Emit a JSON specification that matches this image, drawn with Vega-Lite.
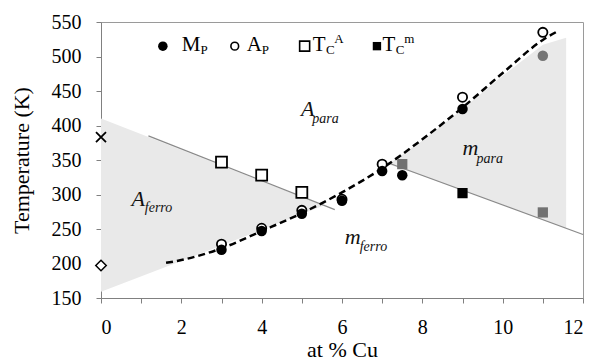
{
  "$schema": "https://vega.github.io/schema/vega-lite/v6.json",
  "width": 482,
  "height": 276,
  "autosize": {"type": "none"},
  "padding": {"left": 101, "top": 22, "right": 13, "bottom": 63},
  "background": "white",
  "config": {
    "view": {"stroke": "#9a9a9a", "strokeWidth": 1},
    "font": "Liberation Serif",
    "axis": {
      "grid": false,
      "labelFont": "Liberation Serif",
      "titleFont": "Liberation Serif",
      "labelFontSize": 20,
      "titleFontSize": 22,
      "titleFontWeight": "normal",
      "labelColor": "black",
      "titleColor": "black",
      "domainColor": "#808080",
      "tickColor": "#808080",
      "tickSize": 5
    }
  },
  "datasets": {
    "shade": [
      {"region": "Aferro", "x": 0, "T": 159, "T2": 410},
      {"region": "Aferro", "x": 3, "T": 226, "T2": 342},
      {"region": "Aferro", "x": 5.55, "T": 284, "T2": 284},
      {"region": "mpara", "x": 7.15, "T": 344, "T2": 344},
      {"region": "mpara", "x": 8, "T": 327, "T2": 378},
      {"region": "mpara", "x": 9, "T": 306, "T2": 424},
      {"region": "mpara", "x": 10, "T": 285, "T2": 472},
      {"region": "mpara", "x": 11, "T": 263, "T2": 517},
      {"region": "mpara", "x": 11.58, "T": 251, "T2": 527}
    ],
    "grayLines": [
      {"line": "TCA", "x": 1.18, "T": 385},
      {"line": "TCA", "x": 5.82, "T": 278},
      {"line": "TCm", "x": 7.19, "T": 345},
      {"line": "TCm", "x": 12, "T": 242}
    ],
    "curve": [
      {"x": 1.62, "T": 201},
      {"x": 2, "T": 205},
      {"x": 3, "T": 222},
      {"x": 4, "T": 247},
      {"x": 5, "T": 273},
      {"x": 6, "T": 303},
      {"x": 7, "T": 338},
      {"x": 8, "T": 380},
      {"x": 9, "T": 426},
      {"x": 10, "T": 476},
      {"x": 11, "T": 524},
      {"x": 11.38, "T": 537}
    ],
    "pts": [
      {"series": "AP", "x": 3, "T": 228},
      {"series": "AP", "x": 4, "T": 251},
      {"series": "AP", "x": 5, "T": 277},
      {"series": "AP", "x": 6, "T": 293},
      {"series": "AP", "x": 7, "T": 344},
      {"series": "AP", "x": 9, "T": 441},
      {"series": "AP", "x": 11, "T": 535},
      {"series": "MP", "x": 3, "T": 220},
      {"series": "MP", "x": 4, "T": 247},
      {"series": "MP", "x": 5, "T": 272},
      {"series": "MP", "x": 6, "T": 291},
      {"series": "MP", "x": 7, "T": 334},
      {"series": "MP", "x": 7.5, "T": 328},
      {"series": "MP", "x": 9, "T": 424},
      {"series": "MP", "x": 11, "T": 501},
      {"series": "TCA", "x": 3, "T": 347},
      {"series": "TCA", "x": 4, "T": 328},
      {"series": "TCA", "x": 5, "T": 303},
      {"series": "TCm", "x": 7.5, "T": 344},
      {"series": "TCm", "x": 9, "T": 302},
      {"series": "TCm", "x": 11, "T": 274}
    ],
    "pure": [
      {"kind": "cross", "x": 0, "T": 383},
      {"kind": "diamond", "x": 0, "T": 197}
    ],
    "legendSym": [
      {"series": "MP", "x": 1.54, "T": 515},
      {"series": "AP", "x": 3.33, "T": 515},
      {"series": "TCA", "x": 5.07, "T": 515},
      {"series": "TCm", "x": 6.87, "T": 515}
    ],
    "labels": [
      {"role": "region", "text": "A", "x": 4.98, "T": 414},
      {"role": "regionSub", "text": "para", "x": 5.26, "T": 403},
      {"role": "region", "text": "m", "x": 9.0, "T": 357},
      {"role": "regionSub", "text": "para", "x": 9.35, "T": 345},
      {"role": "region", "text": "m", "x": 6.07, "T": 228},
      {"role": "regionSub", "text": "ferro", "x": 6.44, "T": 218},
      {"role": "region", "text": "A", "x": 0.76, "T": 283},
      {"role": "regionSub", "text": "ferro", "x": 1.09, "T": 275},
      {"role": "legend", "text": "M", "x": 2.01, "T": 508},
      {"role": "legendSub", "text": "P", "x": 2.48, "T": 504},
      {"role": "legend", "text": "A", "x": 3.63, "T": 508},
      {"role": "legendSub", "text": "P", "x": 4.0, "T": 504},
      {"role": "legend", "text": "T", "x": 5.27, "T": 508},
      {"role": "legendSub", "text": "C", "x": 5.6, "T": 504},
      {"role": "legendSup", "text": "A", "x": 5.81, "T": 520},
      {"role": "legend", "text": "T", "x": 7.01, "T": 508},
      {"role": "legendSub", "text": "C", "x": 7.34, "T": 504},
      {"role": "legendSup", "text": "m", "x": 7.55, "T": 520}
    ]
  },
  "encoding": {
    "x": {
      "field": "x",
      "type": "quantitative",
      "scale": {"domain": [0, 12], "nice": false},
      "axis": {
        "title": "at % Cu",
        "values": [0, 1, 2, 3, 4, 5, 6, 7, 8, 9, 10, 11, 12],
        "labelExpr": "datum.value % 2 === 0 ? datum.label : ''",
        "labelFont": "Liberation Serif",
        "titleFont": "Liberation Serif",
        "labelFontSize": 20,
        "titleFontSize": 22,
        "labelPadding": 14,
        "titlePadding": 2
      }
    },
    "y": {
      "field": "T",
      "type": "quantitative",
      "scale": {"domain": [150, 550], "nice": false},
      "axis": {
        "title": "Temperature (K)",
        "values": [150, 200, 250, 300, 350, 400, 450, 500, 550],
        "labelFont": "Liberation Serif",
        "titleFont": "Liberation Serif",
        "labelFontSize": 20,
        "titleFontSize": 22,
        "labelPadding": 15,
        "titlePadding": 18
      }
    }
  },
  "layer": [
    {
      "data": {"name": "shade"},
      "mark": {"type": "area", "color": "#e9e9e9"},
      "encoding": {
        "y2": {"field": "T2"},
        "detail": {"field": "region"}
      }
    },
    {
      "data": {"name": "grayLines"},
      "mark": {"type": "line", "color": "#8a8a8a", "strokeWidth": 1.2},
      "encoding": {"detail": {"field": "line"}}
    },
    {
      "data": {"name": "curve"},
      "mark": {"type": "line", "color": "black", "strokeWidth": 2.5, "strokeDash": [7, 4], "interpolate": "monotone"},
      "encoding": {}
    },
    {
      "data": {"name": "pts"},
      "transform": [{"filter": "datum.series === 'AP'"}],
      "mark": {"type": "point", "shape": "circle", "filled": true, "fill": "white", "stroke": "black", "strokeWidth": 1.8, "size": 85, "opacity": 1}
    },
    {
      "data": {"name": "pts"},
      "transform": [{"filter": "datum.series === 'MP'"}],
      "mark": {"type": "circle", "size": 110, "opacity": 1},
      "encoding": {
        "color": {"condition": {"test": "datum.x === 11", "value": "#747474"}, "value": "black"}
      }
    },
    {
      "data": {"name": "pts"},
      "transform": [{"filter": "datum.series === 'TCA'"}],
      "mark": {"type": "point", "shape": "square", "filled": true, "fill": "white", "stroke": "black", "strokeWidth": 1.8, "size": 120, "opacity": 1}
    },
    {
      "data": {"name": "pts"},
      "transform": [{"filter": "datum.series === 'TCm'"}],
      "mark": {"type": "square", "size": 105, "opacity": 1},
      "encoding": {
        "color": {"condition": {"test": "datum.x !== 9", "value": "#727272"}, "value": "black"}
      }
    },
    {
      "data": {"name": "pure"},
      "transform": [{"filter": "datum.kind === 'cross'"}],
      "mark": {"type": "point", "shape": "M-1,-1L1,1M-1,1L1,-1", "filled": false, "stroke": "black", "strokeWidth": 1.8, "size": 100, "opacity": 1, "clip": false}
    },
    {
      "data": {"name": "pure"},
      "transform": [{"filter": "datum.kind === 'diamond'"}],
      "mark": {"type": "point", "shape": "diamond", "filled": true, "fill": "white", "stroke": "black", "strokeWidth": 1.5, "size": 110, "opacity": 1}
    },
    {
      "data": {"name": "legendSym"},
      "transform": [{"filter": "datum.series === 'MP'"}],
      "mark": {"type": "circle", "size": 90, "color": "black", "opacity": 1}
    },
    {
      "data": {"name": "legendSym"},
      "transform": [{"filter": "datum.series === 'AP'"}],
      "mark": {"type": "point", "shape": "circle", "filled": false, "stroke": "black", "strokeWidth": 1.6, "size": 60, "opacity": 1}
    },
    {
      "data": {"name": "legendSym"},
      "transform": [{"filter": "datum.series === 'TCA'"}],
      "mark": {"type": "point", "shape": "square", "filled": false, "stroke": "black", "strokeWidth": 1.6, "size": 100, "opacity": 1}
    },
    {
      "data": {"name": "legendSym"},
      "transform": [{"filter": "datum.series === 'TCm'"}],
      "mark": {"type": "square", "size": 70, "color": "black", "opacity": 1}
    },
    {
      "data": {"name": "labels"},
      "transform": [{"filter": "datum.role === 'region'"}],
      "mark": {"type": "text", "font": "Liberation Serif", "fontStyle": "italic", "fontSize": 22, "align": "left", "baseline": "alphabetic", "color": "#111"},
      "encoding": {"text": {"field": "text"}}
    },
    {
      "data": {"name": "labels"},
      "transform": [{"filter": "datum.role === 'regionSub'"}],
      "mark": {"type": "text", "font": "Liberation Serif", "fontStyle": "italic", "fontSize": 14, "align": "left", "baseline": "alphabetic", "color": "#111"},
      "encoding": {"text": {"field": "text"}}
    },
    {
      "data": {"name": "labels"},
      "transform": [{"filter": "datum.role === 'legend'"}],
      "mark": {"type": "text", "font": "Liberation Serif", "fontSize": 21, "align": "left", "baseline": "alphabetic", "color": "black"},
      "encoding": {"text": {"field": "text"}}
    },
    {
      "data": {"name": "labels"},
      "transform": [{"filter": "datum.role === 'legendSub' || datum.role === 'legendSup'"}],
      "mark": {"type": "text", "font": "Liberation Serif", "fontSize": 13, "align": "left", "baseline": "alphabetic", "color": "black"},
      "encoding": {"text": {"field": "text"}}
    }
  ]
}
